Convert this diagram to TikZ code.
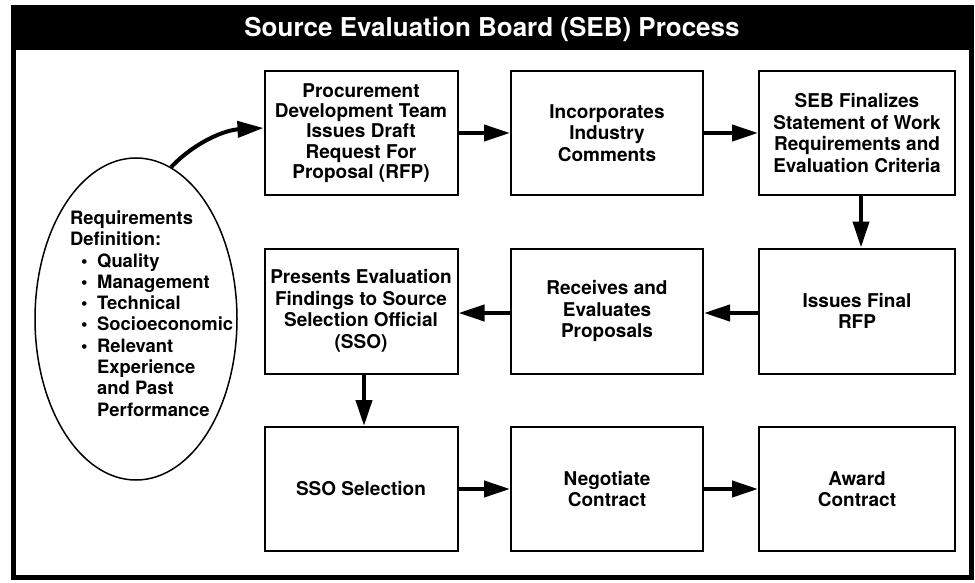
\documentclass[tikz,border=0pt]{standalone}
\usepackage{fontspec}
\setmainfont{TeX Gyre Heros}
\usetikzlibrary{arrows.meta,shapes.geometric}
\tikzset{
  stepbox/.style={draw=black, line width=2pt, fill=white, minimum width=193pt, minimum height=124pt,
    inner sep=0pt, align=center, font=\fontsize{19}{21.5}\selectfont\bfseries},
  flow/.style={line width=4pt, -{Triangle[length=26pt,width=16pt]}},
}
\begin{document}
\begin{tikzpicture}[x=1pt,y=-1pt]
\useasboundingbox (0,0) rectangle (975,583);
% frame and title bar
\fill[black] (11,6) rectangle (974,50);
\draw[line width=5pt] (13.5,8) rectangle (971.5,577);
\node[text=white, font=\fontsize{26}{30}\selectfont\bfseries] (title) at (492,29) {Source Evaluation Board (SEB) Process};
% requirements ellipse
\node[draw, ellipse, line width=1.5pt, minimum width=202pt, minimum height=322pt, inner sep=0pt] (req) at (136,319) {};
\node[anchor=west, inner sep=0pt, font=\fontsize{18.4}{21.3}\selectfont\bfseries] (reqtext) at (70,316) {%
  \renewcommand{\arraystretch}{1}%
  \begin{tabular}{@{}p{11pt}@{}p{16pt}@{}l@{}}
  \multicolumn{3}{@{}l@{}}{Requirements}\\
  \multicolumn{3}{@{}l@{}}{Definition:}\\
  & \textbullet & Quality\\
  & \textbullet & Management\\
  & \textbullet & Technical\\
  & \textbullet & Socioeconomic\\
  & \textbullet & Relevant\\
  & & Experience\\
  & & and Past\\
  & & Performance
  \end{tabular}};
% boxes
\node[stepbox, font=\fontsize{19}{20.3}\selectfont\bfseries] (b1) at (361,133) {Procurement\\Development Team\\Issues Draft\\Request For\\Proposal (RFP)};
\node[stepbox, minimum width=192pt] (b2) at (607,133) {Incorporates\\Industry\\Comments};
\node[stepbox, minimum width=196pt] (b3) at (857,133) {SEB Finalizes\\Statement of Work\\Requirements and\\Evaluation Criteria};
\node[stepbox, minimum width=196pt, minimum height=125pt] (b6) at (857,311) {Issues Final\\RFP};
\node[stepbox, minimum width=192pt, minimum height=125pt] (b5) at (607,311) {Receives and\\Evaluates\\Proposals};
\node[stepbox, minimum height=125pt] (b4) at (361,311) {Presents Evaluation\\Findings to Source\\Selection Official\\(SSO)};
\node[stepbox] (b7) at (361,489) {SSO Selection};
\node[stepbox, minimum width=192pt] (b8) at (607,489) {Negotiate\\Contract};
\node[stepbox, minimum width=196pt] (b9) at (857,489) {Award\\Contract};
% connectors
\draw[flow] (req.77) .. controls (195,142) and (225,130) .. ([yshift=5pt]b1.west);
\draw[flow] (b1) -- (b2);
\draw[flow] (b2) -- (b3);
\draw[flow] ([xshift=4pt]b3.south) -- ([xshift=4pt]b6.north);
\draw[flow] ([yshift=-2pt]b6.west) -- ([yshift=-2pt]b5.east);
\draw[flow] ([yshift=-2pt]b5.west) -- ([yshift=-2pt]b4.east);
\draw[flow] ([xshift=3pt]b4.south) -- ([xshift=3pt]b7.north);
\draw[flow] (b7) -- (b8);
\draw[flow] (b8) -- (b9);
\end{tikzpicture}
\end{document}
